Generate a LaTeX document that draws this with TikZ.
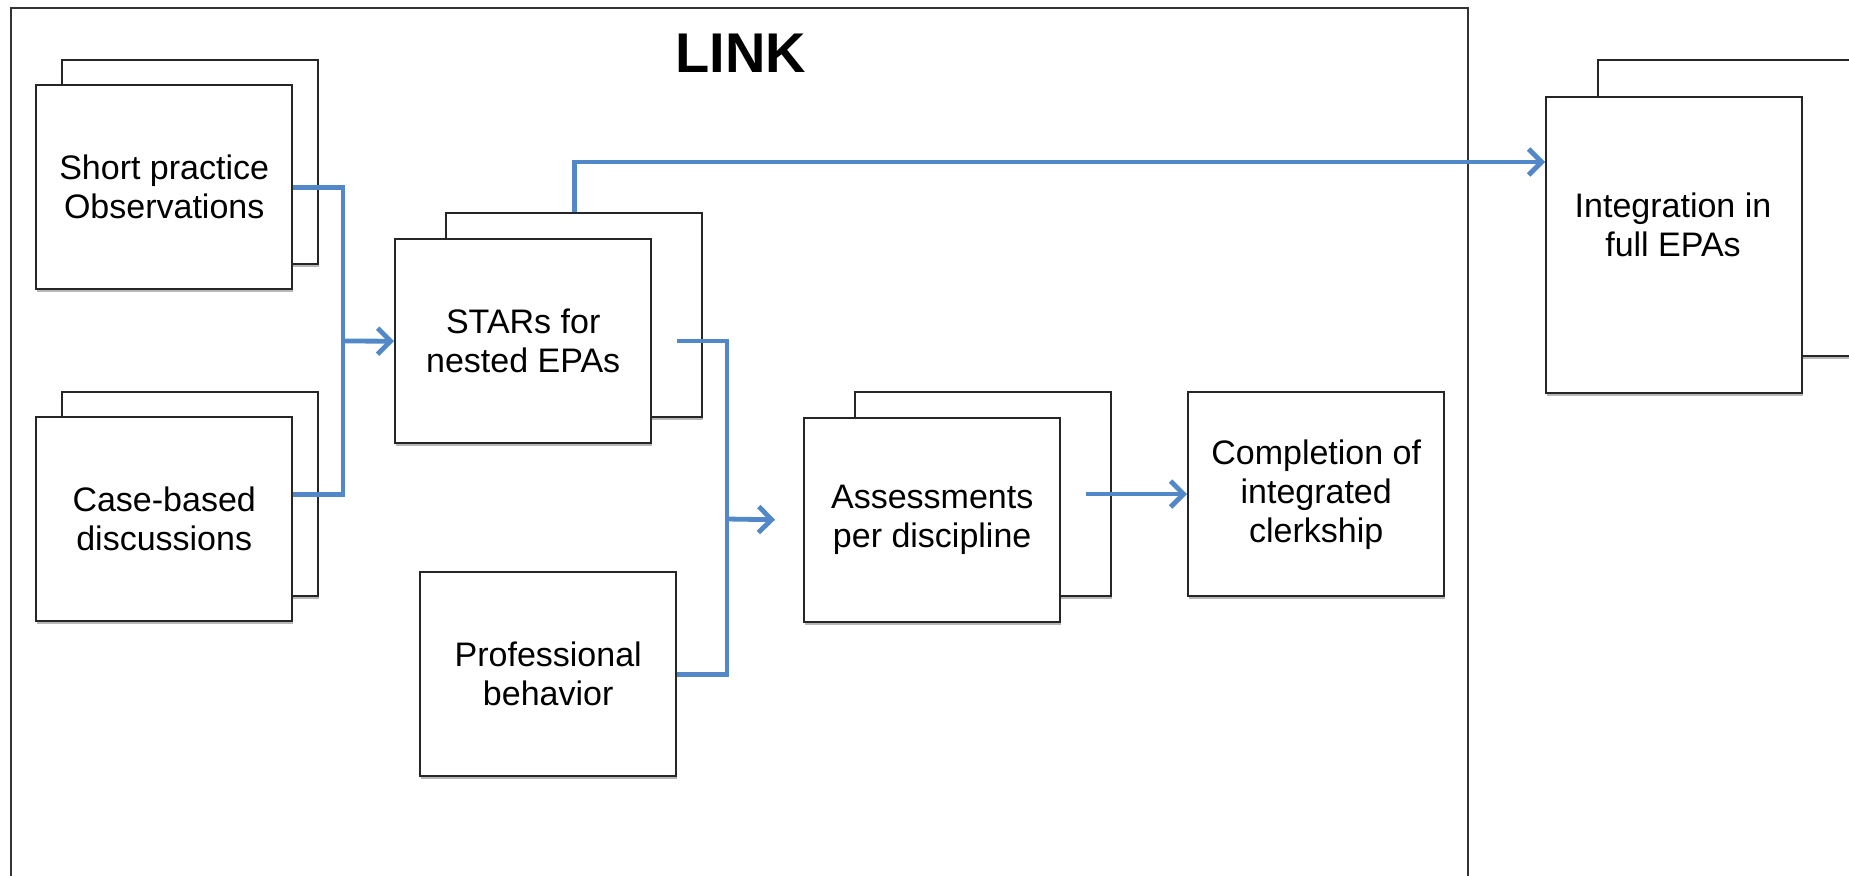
\documentclass[tikz,border=0pt]{standalone}
\usepackage{fontspec}
\setmainfont{Liberation Sans}
\usetikzlibrary{arrows.meta,shadows}
\definecolor{linkblue}{RGB}{82,136,200}
\begin{document}
\begin{tikzpicture}[x=0.5pt,y=-0.5pt,
  card/.style={draw=black!85, line width=1.2pt, fill=white, anchor=north west,
    minimum width=128pt, minimum height=102pt, inner sep=2pt, align=center,
    font=\fontsize{17}{19.5}\selectfont,
    drop shadow={shadow xshift=0.5pt, shadow yshift=-1.6pt, opacity=0.4, fill=black!70}},
  tallcard/.style={card, minimum height=148pt},
  conn/.style={draw=linkblue, line width=2.4pt, line join=miter},
  arr/.style={conn, -{Straight Barb[length=6.5pt,width=13pt]}},
  frame/.style={draw=black!80, line width=1.2pt}]
\useasboundingbox (0,0) rectangle (1849,875);
\clip (0,0) rectangle (1849,875);
\fill[white] (0,0) rectangle (1849,875);
% outer LINK frame
\draw[frame] (11,920) -- (11,8) -- (1468,8) -- (1468,920);
\node[font=\fontsize{28}{32}\selectfont\bfseries] (title) at (741,53) {LINK};
% Short practice
\node[card] (sp2) at (61,59) {};
\node[card] (sp) at (35,84) {Short practice\\Observations};
% Case-based
\node[card] (cb2) at (61,391) {};
\node[card] (cb) at (35,416) {Case-based\\discussions};
% STARs
\node[card] (star2) at (445,212) {};
\node[card] (star) at (394,238) {STARs for\\nested EPAs};
% Professional behavior
\node[card] (prof) at (419,571) {Professional\\behavior};
% Assessments
\node[card] (ass2) at (854,391) {};
\node[card] (ass) at (803,417) {Assessments\\per discipline};
% Completion
\node[card] (comp) at (1187,391) {Completion of\\integrated\\clerkship};
% Integration
\node[tallcard] (int2) at (1597,59) {};
\node[tallcard] (int) at (1545,96) {};
\node[font=\fontsize{17}{19.5}\selectfont, align=center] (inttext) at (1673,225) {Integration in\\full EPAs};
% connectors
\coordinate (j1) at (343,341);
\coordinate (s1) at (677,341);
\coordinate (j2) at (727,519);
\coordinate (a1) at (1086,494);
\coordinate (i1) at (1545,162);
\draw[conn] (sp.east) -| (j1) |- (cb.east |- cb2.center);
\draw[arr] (j1) -- (star.west);
\draw[conn] (s1) -| (j2) |- (prof.east);
\draw[arr, shorten >=14pt] (j2) -- (ass.west);
\draw[arr] (a1) -- (comp.west |- a1);
\draw[arr] (star2.north) |- (i1);
\end{tikzpicture}
\end{document}
